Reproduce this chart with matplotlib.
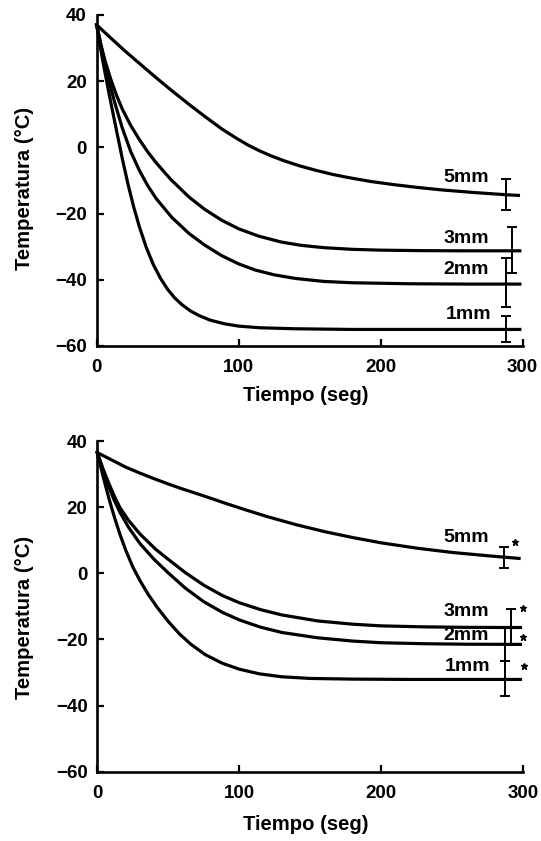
import matplotlib
matplotlib.use('Agg')
import matplotlib.pyplot as plt

# ---- data (time in s, temperature in C) ----
sizes = ['5mm', '3mm', '2mm', '1mm']

# top panel
top_t5 = [0, 10, 20, 30, 42, 53, 65, 76, 88, 99, 107, 115, 123, 132, 143, 155, 166, 177, 193, 210,
          226, 243, 266, 290, 297]
top_T5 = [37, 33.0, 29.1, 25.4, 21.0, 17.1, 13.0, 9.4, 5.6, 2.6, 0.6, -1.1, -2.6, -4.05, -5.6, -7.0,
          -8.15, -9.1, -10.3, -11.3, -12.1, -12.85, -13.65, -14.35, -14.5]
top_t3 = [0, 3, 6, 10, 14, 18, 24, 30, 36, 42, 52, 65, 76, 88, 100, 114, 130, 144, 160, 180, 200,
          230, 260, 298]
top_T3 = [37, 31, 26, 20.5, 15.7, 11.6, 6.6, 2.4, -1.4, -4.7, -9.6, -15.0, -18.7, -22.0, -24.6, -26.8,
          -28.6, -29.6, -30.3, -30.8, -31.05, -31.2, -31.25, -31.25]
top_t2 = [0, 4, 8, 12, 18, 24, 30, 36, 42, 53, 65, 76, 88, 100, 112, 125, 140, 160, 180, 220, 260, 298]
top_T2 = [37, 28.8, 21.3, 14.6, 5.9, -1.3, -6.9, -11.6, -15.5, -21.2, -26.0, -29.5, -32.7, -35.2,
          -37.1, -38.5, -39.6, -40.5, -40.9, -41.2, -41.3, -41.3]
top_t1 = [0, 4, 9, 14, 18, 22, 26, 30, 35, 40, 45, 50, 55, 60, 66, 72, 80, 90, 100, 115, 140, 180, 298]
top_T1 = [37, 26.8, 15.6, 5.0, -3.3, -11.0, -17.9, -23.9, -30.3, -35.5, -39.6, -42.9, -45.5, -47.5,
          -49.4, -50.8, -52.2, -53.3, -54.0, -54.5, -54.8, -55.0, -55.0]

top_err_t = [288, 292.7, 288.5, 288.5]
top_err_T = [-14.3, -31.0, -40.8, -54.8]
top_err = [4.7, 6.8, 7.3, 4.0]
top_lab_t = [260.5, 260.5, 260.5, 262]
top_lab_T = [-9.0, -27.4, -36.9, -50.5]

# bottom panel
bot_t5 = [0, 10, 20, 30, 40, 50, 60, 75, 90, 105, 120, 140, 160, 180, 200, 225, 250, 275, 297]
bot_T5 = [36.5, 34.3, 32.1, 30.3, 28.6, 27.0, 25.5, 23.4, 21.2, 19.1, 17.1, 14.7, 12.6, 10.8, 9.2,
          7.6, 6.3, 5.3, 4.5]
bot_t3 = [0, 4, 8, 12, 16, 22, 30, 41, 50, 62, 75, 88, 100, 115, 130, 155, 180, 200, 230, 260, 298]
bot_T3 = [36.5, 31.6, 27.3, 23.3, 19.8, 16.0, 11.9, 7.3, 4.2, 0.2, -3.6, -6.7, -8.9, -11.0, -12.6,
          -14.4, -15.4, -15.9, -16.2, -16.35, -16.4]
bot_t2 = [0, 4, 8, 12, 16, 22, 30, 40, 50, 62, 75, 88, 100, 115, 130, 155, 180, 200, 230, 260, 298]
bot_T2 = [36.5, 31.0, 26.2, 22.0, 18.4, 13.9, 9.0, 4.2, 0.1, -4.5, -8.6, -11.8, -14.1, -16.3, -17.9,
          -19.5, -20.5, -21.0, -21.3, -21.45, -21.5]
bot_t1 = [0, 4, 8, 12, 16, 20, 25, 30, 36, 42, 50, 58, 66, 76, 88, 100, 114, 130, 150, 180, 220, 298]
bot_T1 = [36.5, 29.4, 22.9, 17.0, 11.7, 7.0, 1.9, -2.2, -6.5, -10.2, -14.6, -18.4, -21.5, -24.6,
          -27.2, -29.0, -30.4, -31.3, -31.8, -32.0, -32.1, -32.1]

bot_err_t = [286.7, 291.4, 287.4, 287.4]
bot_err_T = [4.8, -16.2, -21.45, -31.8]
bot_err = [3.2, 5.4, 5.05, 5.3]
bot_lab_t = [259.8, 259.8, 259.8, 261]
bot_lab_T = [10.8, -11.6, -18.9, -28.2]
bot_star_t = [294.4, 300, 300, 300.5]
bot_star_T = [9.5, -10.5, -19.4, -28.0]

xticks = [0, 100, 200, 300]
yticks = [40, 20, 0, -20, -40, -60]

plt.rcParams['font.family'] = ['Liberation Sans', 'DejaVu Sans']
label_font = {'size': 14.6, 'weight': 'bold'}


def panel(ax, curves, err_t, err_T, err, lab_t, lab_T, label_pos):
    for t, T in curves:
        ax.plot(t, T, color='k', lw=2.3, solid_joinstyle='round', clip_on=False)
    ax.errorbar(err_t, err_T, yerr=err, fmt='none', ecolor='k', elinewidth=1.4,
                capsize=3.5, capthick=1.4, clip_on=False)
    for s, x, y in zip(sizes, lab_t, lab_T):
        ax.text(x, y, s, ha='center', va='center', fontsize=14, fontweight='bold')

    ax.set_xlim(0, 300)
    ax.set_ylim(-60, 40)
    ax.set_xticks(xticks)
    ax.set_yticks(yticks)
    ax.spines['top'].set_visible(False)
    ax.spines['right'].set_visible(False)
    for sp in ['left', 'bottom']:
        ax.spines[sp].set_linewidth(1.9)
    ax.tick_params(axis='x', direction='in', length=5, width=1.6, pad=9.5, labelsize=13.5)
    ax.tick_params(axis='y', direction='in', length=5, width=1.6, pad=7, labelsize=13.5)
    for lab in ax.get_xticklabels() + ax.get_yticklabels():
        lab.set_fontweight('bold')

    ax.set_xlabel('Tiempo (seg)', fontdict=label_font)
    ax.set_ylabel('Temperatura (°C)', fontdict=label_font)
    ax.xaxis.set_label_coords(label_pos[0], label_pos[1])
    ax.yaxis.set_label_coords(label_pos[2], label_pos[3])


fig = plt.figure(figsize=(5.41, 8.41), dpi=100)
ax1 = fig.add_axes([0.1787, 0.5886, 0.7874, 0.3936])
ax2 = fig.add_axes([0.1799, 0.0824, 0.7874, 0.3932])

panel(ax1, [(top_t5, top_T5), (top_t3, top_T3), (top_t2, top_T2), (top_t1, top_T1)],
      top_err_t, top_err_T, top_err, top_lab_t, top_lab_T, (0.491, -0.121, -0.147, 0.475))
panel(ax2, [(bot_t5, bot_T5), (bot_t3, bot_T3), (bot_t2, bot_T2), (bot_t1, bot_T1)],
      bot_err_t, bot_err_T, bot_err, bot_lab_t, bot_lab_T, (0.49, -0.131, -0.149, 0.468))

# significance marks
ax2.plot(bot_star_t, bot_star_T, ls='none', marker='*', ms=5, color='k', clip_on=False)

fig.savefig('out.png', dpi=100)
